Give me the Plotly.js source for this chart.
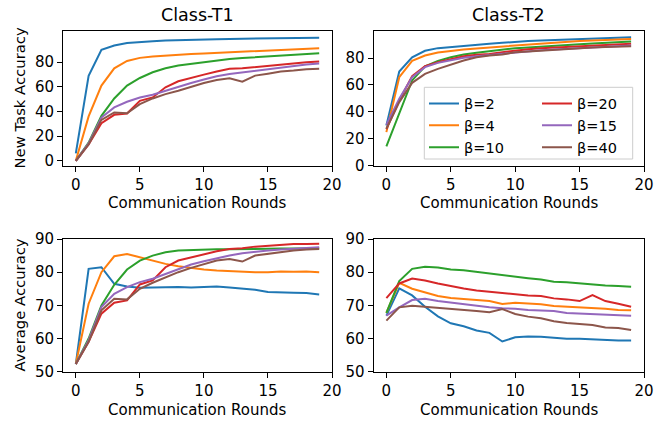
<!DOCTYPE html>
<html>
<head>
<meta charset="utf-8">
<script src="https://cdn.plot.ly/plotly-3.0.1.min.js"></script>
<style>html,body{margin:0;padding:0;background:#fff;}#chart{width:668px;height:424px;}</style>
</head>
<body>
<div id="chart"></div>
<script>
// ---------- data ----------
const rounds = [0,1,2,3,4,5,6,7,8,9,10,11,12,13,14,15,16,17,18,19];
const betaLabels = ["β=2","β=4","β=10","β=20","β=15","β=40"];
const colors = ["#1f77b4","#ff7f0e","#2ca02c","#d62728","#9467bd","#8c564b"];

// Class-T1, New Task Accuracy
const t1New_b2  = [6,69,90,93.5,95.5,96.5,97,97.5,97.9,98.2,98.5,98.7,98.9,99.1,99.2,99.4,99.5,99.6,99.7,99.8];
const t1New_b4  = [0,36,61,75,81,83.5,84.6,85.4,86,86.6,87.1,87.6,88.1,88.5,88.9,89.3,89.8,90.3,90.8,91.3];
const t1New_b10 = [0,14.7,36.5,50.6,61,67.2,71.8,75.1,77.3,78.6,80.3,81.5,82.5,83.3,84,84.6,85.3,86,86.6,87.3];
const t1New_b20 = [0,13.3,30.5,37.3,38.4,48.7,51.4,59.6,64.5,66.9,69.9,72.4,74.6,75.1,76.2,77.3,78.4,79.2,80,80.5];
const t1New_b15 = [0,14.1,35.1,43.3,47.9,51.4,53.6,56.9,60.1,63.1,65.9,68.6,70.5,71.8,73.5,74.6,75.9,77.3,78.1,78.9];
const t1New_b40 = [0,13.3,33.2,39.2,38.6,46,50.6,54.1,56.9,60.1,63.1,65.6,66.9,64.2,69.1,70.7,72.4,73.2,74.3,74.6];

// Class-T2, New Task Accuracy
const t2New_b2  = [29.8,70,80.7,85.5,87.5,88.4,89.4,90,90.7,91.5,92.4,92.8,93.2,93.6,94,94.4,94.8,95.1,95.4,95.7];
const t2New_b4  = [24.8,65.8,78,82,84.2,85.5,86.5,87.3,88,89,89.9,90.5,91,91.5,92.2,92.9,93.3,93.7,94,94.4];
const t2New_b10 = [14.2,38.5,63.4,74,78,80.7,82.7,84,85.2,86.4,87.5,88,88.7,89.2,89.8,90.4,90.9,91.4,91.9,92.4];
const t2New_b20 = [27,48.4,66.6,74,77,79.5,81.5,82.5,83.2,84.5,85.7,86.6,87.5,88,88.5,89,89.4,89.9,90.3,90.7];
const t2New_b15 = [30.3,49.7,65.8,73.3,76.5,78.5,80.3,81.5,82.5,83.5,84.5,85.3,86,86.5,87,87.5,88,88.5,89,89.4];
const t2New_b40 = [27.3,47.2,61.6,68.3,72,75,78.3,80.7,82,82.7,84.5,85,85.7,86.3,86.9,87.5,88,88.3,88.7,89];

// Class-T1, Average Accuracy
const t1Avg_b2  = [52.3,81,81.5,76.5,75.7,75.3,75.4,75.5,75.5,75.4,75.6,75.7,75.4,75,74.7,74,73.8,73.8,73.7,73.3];
const t1Avg_b4  = [52.3,70.5,80,84.8,85.5,84.5,83.5,82.5,81.8,81.2,80.8,80.5,80.3,80.2,80,80,80.2,80.1,80.2,80];
const t1Avg_b10 = [52.3,60,70,76.2,80.8,83.5,85,86,86.5,86.7,86.8,86.9,86.9,87,87,87.1,87.1,87.1,87.2,87.2];
const t1Avg_b20 = [52.3,59,67.5,70.8,71.5,76.3,77.5,81.5,83.5,84.5,85.5,86.3,87,87.2,87.7,88,88.3,88.5,88.5,88.6];
const t1Avg_b15 = [52.3,59.5,69.5,73.5,75.5,77,78,79.5,81,82.3,83.3,84.2,85,85.7,86.2,86.5,86.8,87,87.3,87.5];
const t1Avg_b40 = [52.3,59,68.5,72,71.8,75,76.8,78.5,80,81.3,82.5,83.5,84,83.2,85,85.5,86.2,86.5,86.8,87];

// Class-T2, Average Accuracy
const t2Avg_b2  = [66.9,75.1,73,69.6,66.7,64.6,63.7,62.4,61.7,59.1,60.4,60.6,60.5,60.1,59.9,59.9,59.7,59.6,59.4,59.4];
const t2Avg_b4  = [67.7,76.8,75,73.8,72.8,72.2,72,71.6,71.3,70.4,70.8,70.6,70.3,69.8,69.6,69.4,69.3,69,68.6,68.5];
const t2Avg_b10 = [67.7,77.3,81,81.6,81.4,80.8,80.6,80.1,79.5,79,78.6,78.2,77.8,77.1,77,76.6,76.3,76,75.8,75.6];
const t2Avg_b20 = [72.2,76.6,78.1,77.5,76.6,75.8,75.1,74.5,74.1,73.6,73.3,73,72.8,72.1,71.8,71.3,73.1,71.3,70.5,69.6];
const t2Avg_b15 = [66.9,69.4,71.6,72,71.3,70.8,70.2,69.8,69.4,69.1,69,68.6,68.5,68.3,67.7,67.5,67.3,67.1,66.9,66.9];
const t2Avg_b40 = [65.4,69.4,69.9,69.6,69.2,68.9,68.8,68.3,67.9,68.9,67.4,66.6,66.1,65.2,64.7,64.4,64.1,63.3,63.2,62.6];

const xTicks = [0,5,10,15,20];
const newTicks = [0,20,40,60,80];
const avgTicks = [50,60,70,80,90];
const panelTitles = ["Class-T1","Class-T2"];
const xTitle = "Communication Rounds";
const yTitleTop = "New Task Accuracy";
const yTitleBottom = "Average Accuracy";

// ---------- traces ----------
const panels = [
  {series:[t1New_b2,t1New_b4,t1New_b10,t1New_b20,t1New_b15,t1New_b40], xa:'x',  ya:'y',  legend:false},
  {series:[t2New_b2,t2New_b4,t2New_b10,t2New_b20,t2New_b15,t2New_b40], xa:'x2', ya:'y2', legend:true},
  {series:[t1Avg_b2,t1Avg_b4,t1Avg_b10,t1Avg_b20,t1Avg_b15,t1Avg_b40], xa:'x3', ya:'y3', legend:false},
  {series:[t2Avg_b2,t2Avg_b4,t2Avg_b10,t2Avg_b20,t2Avg_b15,t2Avg_b40], xa:'x4', ya:'y4', legend:false}
];
const traces = [];
panels.forEach(p => {
  p.series.forEach((ys, i) => {
    traces.push({
      x: rounds, y: ys, type: 'scatter', mode: 'lines',
      name: betaLabels[i],
      line: {color: colors[i], width: 2},
      xaxis: p.xa, yaxis: p.ya,
      showlegend: p.legend,
      legend: i < 3 ? 'legend' : 'legend2',
      hoverinfo: 'skip'
    });
  });
});

// ---------- layout ----------
const W = 668, H = 424;
const px = v => v / W;
const py = v => 1 - v / H;
const colL = [px(63), px(332)];
const colR = [px(373.5), px(644)];
const rowT = [py(166), py(31)];
const rowB = [py(371.7), py(239)];

function xAx(domain, anchor) {
  return {domain, anchor, range:[-1,20], tickmode:'array', tickvals:xTicks,
    ticks:'outside', ticklen:5, tickwidth:1, tickcolor:'#000',
    showline:true, linecolor:'#000', linewidth:1, mirror:true,
    showgrid:false, zeroline:false, tickfont:{size:15, color:'#000'}, fixedrange:true};
}
function yAx(domain, anchor, range, tv) {
  return {domain, anchor, range, tickmode:'array', tickvals:tv,
    ticks:'outside', ticklen:5, tickwidth:1, tickcolor:'#000',
    showline:true, linecolor:'#000', linewidth:1, mirror:true,
    showgrid:false, zeroline:false, tickfont:{size:15, color:'#000'}, fixedrange:true};
}

const legendCommon = {bgcolor:'rgba(0,0,0,0)', borderwidth:0, font:{size:14.5, color:'#000'},
  xanchor:'left', yanchor:'top', tracegroupgap:0, itemclick:false, itemdoubleclick:false};

const layout = {
  width: W, height: H,
  margin: {l:0, r:0, t:0, b:0},
  paper_bgcolor: '#fff', plot_bgcolor: '#fff',
  font: {family: 'DejaVu Sans', color: '#000', size: 14},
  showlegend: true,
  xaxis:  xAx(colL, 'y'),
  yaxis:  yAx(rowT, 'x', [-4.2, 105.3], newTicks),
  xaxis2: xAx(colR, 'y2'),
  yaxis2: yAx(rowT, 'x2', [-0.5, 100.3], newTicks),
  xaxis3: xAx(colL, 'y3'),
  yaxis3: yAx(rowB, 'x3', [50, 90], avgTicks),
  xaxis4: xAx(colR, 'y4'),
  yaxis4: yAx(rowB, 'x4', [50, 90], avgTicks),
  legend:  Object.assign({x: px(424), y: py(87.5)}, legendCommon),
  legend2: Object.assign({x: px(537), y: py(87.5)}, legendCommon),
  shapes: [{
    type:'rect', xref:'paper', yref:'paper',
    x0: px(424.3), x1: px(632.7), y0: py(159), y1: py(87.3),
    line:{color:'#cccccc', width:1}, fillcolor:'rgba(255,255,255,0.8)', layer:'above'
  }],
  annotations: [
    {text: panelTitles[0], xref:'paper', yref:'paper', x:(colL[0]+colL[1])/2, y:py(15), xanchor:'center', yanchor:'middle', showarrow:false, font:{size:17.5}},
    {text: panelTitles[1], xref:'paper', yref:'paper', x:(colR[0]+colR[1])/2, y:py(15), xanchor:'center', yanchor:'middle', showarrow:false, font:{size:17.5}},
    {text: xTitle, xref:'paper', yref:'paper', x:(colL[0]+colL[1])/2, y:py(203), xanchor:'center', yanchor:'middle', showarrow:false, font:{size:15}},
    {text: xTitle, xref:'paper', yref:'paper', x:(colR[0]+colR[1])/2, y:py(203), xanchor:'center', yanchor:'middle', showarrow:false, font:{size:15}},
    {text: xTitle, xref:'paper', yref:'paper', x:(colL[0]+colL[1])/2, y:py(410), xanchor:'center', yanchor:'middle', showarrow:false, font:{size:15}},
    {text: xTitle, xref:'paper', yref:'paper', x:(colR[0]+colR[1])/2, y:py(410), xanchor:'center', yanchor:'middle', showarrow:false, font:{size:15}},
    {text: yTitleTop, xref:'paper', yref:'paper', x:px(19), y:py(98.5), xanchor:'center', yanchor:'middle', textangle:-90, showarrow:false, font:{size:14.8}},
    {text: yTitleBottom, xref:'paper', yref:'paper', x:px(19), y:py(305.4), xanchor:'center', yanchor:'middle', textangle:-90, showarrow:false, font:{size:14.8}}
  ]
};

Plotly.newPlot('chart', traces, layout, {staticPlot:true, displayModeBar:false});
</script>
</body>
</html>
